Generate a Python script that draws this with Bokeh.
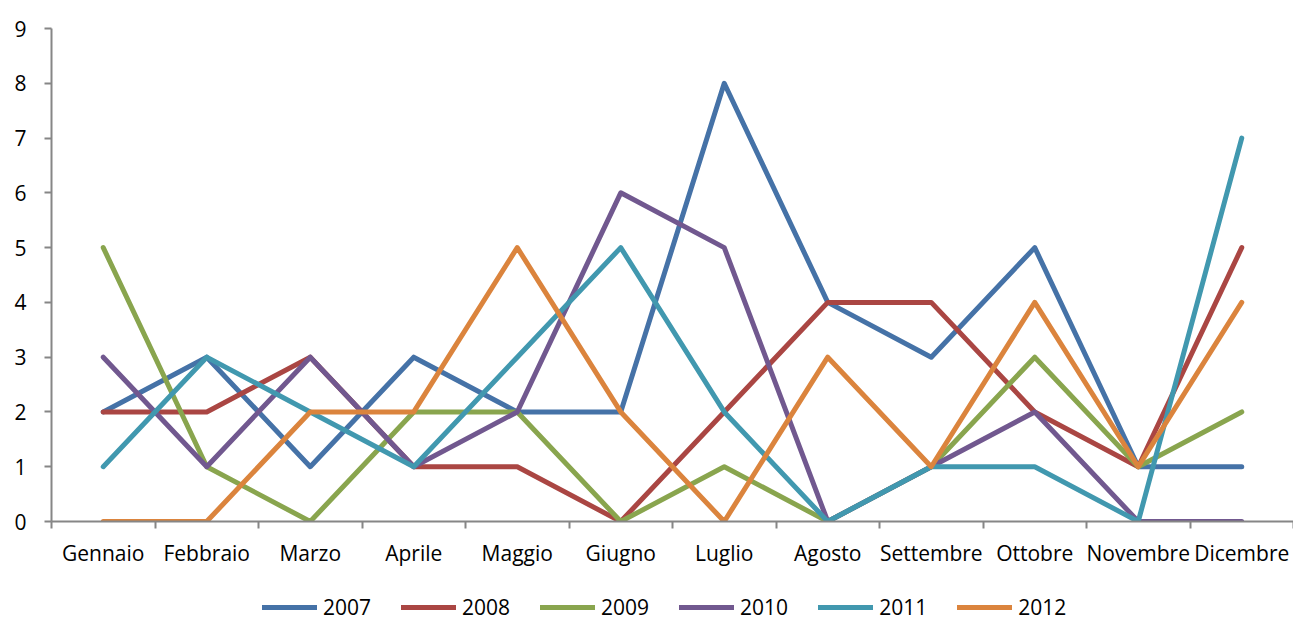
from bokeh.plotting import figure
from bokeh.layouts import column
from bokeh.models import (Range1d, LinearAxis, FixedTicker, Legend, LegendItem)
from bokeh.embed import file_html
from bokeh.resources import INLINE

# Monthly counts per year
mesi = ["Gennaio", "Febbraio", "Marzo", "Aprile", "Maggio", "Giugno",
        "Luglio", "Agosto", "Settembre", "Ottobre", "Novembre", "Dicembre"]
anni = ["2007", "2008", "2009", "2010", "2011", "2012"]

v2007 = [2, 3, 1, 3, 2, 2, 8, 4, 3, 5, 1, 1]
v2008 = [2, 2, 3, 1, 1, 0, 2, 4, 4, 2, 1, 5]
v2009 = [5, 1, 0, 2, 2, 0, 1, 0, 1, 3, 1, 2]
v2010 = [3, 1, 3, 1, 2, 6, 5, 0, 1, 2, 0, 0]
v2011 = [1, 3, 2, 1, 3, 5, 2, 0, 1, 1, 0, 7]
v2012 = [0, 0, 2, 2, 5, 2, 0, 3, 1, 4, 1, 4]

y_ticks = [0, 1, 2, 3, 4, 5, 6, 7, 8, 9]

serie = [v2007, v2008, v2009, v2010, v2011, v2012]
colori = ["#4572A7", "#AA4643", "#89A54E", "#71588F", "#4198AF", "#DB843D"]

FONT = "Open Sans"
AXIS_GREY = "#868686"
LINE_W = 5

# each month occupies one unit band; points sit at the band centres
n = len(mesi)
centri = [i + 0.5 for i in range(n)]
bordi = list(range(n + 1))

p = figure(width=1293, height=580, x_range=Range1d(0, n),
           y_range=Range1d(0, 9), output_backend="svg", toolbar_location=None,
           x_axis_type=None, y_axis_type=None,
           min_border_left=51, min_border_right=0, min_border_top=28,
           min_border_bottom=59)
p.outline_line_color = None
p.xgrid.visible = False
p.ygrid.visible = False

# y axis
yax = LinearAxis(ticker=FixedTicker(ticks=y_ticks))
yax.axis_line_color = AXIS_GREY
yax.axis_line_width = 2
yax.major_tick_line_color = AXIS_GREY
yax.major_tick_line_width = 2
yax.major_tick_in = 0
yax.major_tick_out = 7
yax.minor_tick_line_color = None
yax.major_label_standoff = 18
yax.major_label_text_font = FONT
yax.major_label_text_font_size = "21px"
yax.major_label_text_color = "#000000"
p.add_layout(yax, "left")

# x axis: month names at band centres, tick marks on band boundaries
xax = LinearAxis(ticker=FixedTicker(ticks=centri, minor_ticks=bordi),
                 major_label_overrides={c: m for c, m in zip(centri, mesi)})
xax.axis_line_color = AXIS_GREY
xax.axis_line_width = 2
xax.major_tick_line_color = None
xax.major_tick_in = 0
xax.major_tick_out = 0
xax.minor_tick_line_color = AXIS_GREY
xax.minor_tick_line_width = 2
xax.minor_tick_in = 0
xax.minor_tick_out = 7
xax.major_label_standoff = 10
xax.major_label_text_font = FONT
xax.major_label_text_font_size = "21px"
xax.major_label_text_color = "#000000"
p.add_layout(xax, "below")

for vals, col in zip(serie, colori):
    p.line(centri, vals, line_color=col, line_width=LINE_W,
           line_join="round", line_cap="round")

# legend strip under the chart; its series lie outside the strip's view,
# so only the legend entries show
leg = figure(width=1293, height=37, x_range=Range1d(0, n),
             y_range=Range1d(100, 101),
             output_backend="svg", toolbar_location=None,
             x_axis_type=None, y_axis_type=None,
             min_border_left=0, min_border_right=0, min_border_top=0,
             min_border_bottom=0)
leg.outline_line_color = None
leg.xgrid.visible = False
leg.ygrid.visible = False

items = []
for anno, vals, col in zip(anni, serie, colori):
    r = leg.line(centri, vals, line_color=col, line_width=LINE_W,
                 line_cap="round")
    items.append(LegendItem(label=anno, renderers=[r]))

legend = Legend(items=items, orientation="horizontal", location=(211, -4))
legend.border_line_color = None
legend.background_fill_alpha = 0
legend.label_text_font = FONT
legend.label_text_font_size = "21px"
legend.label_text_color = "#000000"
legend.glyph_width = 55
legend.glyph_height = 20
legend.label_standoff = 6
legend.spacing = 30
legend.padding = 0
legend.margin = 0
leg.add_layout(legend, "center")

open("out.html", "w").write(file_html(column(p, leg, spacing=0), INLINE))
